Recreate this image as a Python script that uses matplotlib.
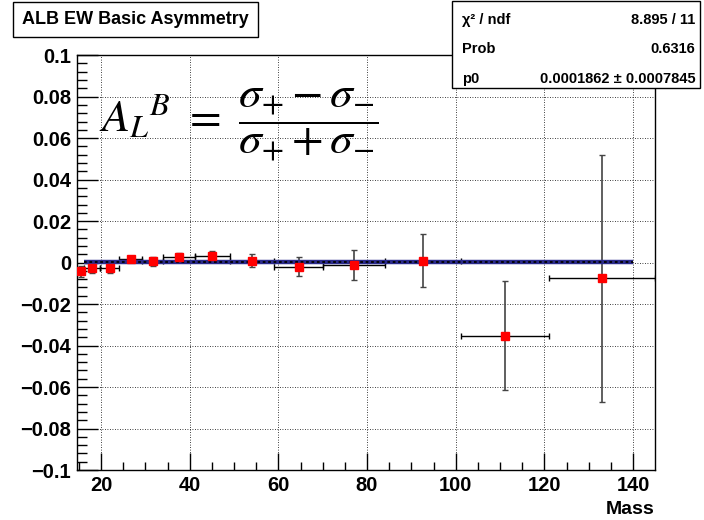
import numpy as np
import matplotlib
matplotlib.use("Agg")
import matplotlib.pyplot as plt
from matplotlib.ticker import MultipleLocator

# ------------------ DATA ------------------ #
bin_edges = [14.5, 16.2, 19.8, 24.1, 29.2, 34.0, 41.1, 49.0, 59.0, 70.1, 84.0, 101.1, 121.0, 144.9]
asym = [-0.0041, -0.0028, -0.0028, 0.0017, 0.0007, 0.0028, 0.0031, 0.0009,
        -0.0020, -0.0012, 0.0009, -0.0353, -0.0076]
asym_err = [0.0026, 0.0020, 0.0020, 0.0015, 0.0022, 0.0016, 0.0024, 0.0032,
            0.0046, 0.0071, 0.0127, 0.0262, 0.0597]
fit_p0 = 0.0001862
fit_range = [16.2, 140.0]

title = "ALB EW Basic Asymmetry"
stat_names = ["\u03c7\u00b2 / ndf", "Prob", "p0"]
stat_values = ["8.895 / 11", "0.6316", "0.0001862 \u00b1 0.0007845"]

edges = np.array(bin_edges)
centers = 0.5 * (edges[1:] + edges[:-1])
half_w = 0.5 * (edges[1:] - edges[:-1])

plt.rcParams['font.family'] = ['Liberation Sans', 'DejaVu Sans']
plt.rcParams['mathtext.fontset'] = 'stix'

fig = plt.figure(figsize=(7.04, 5.20), dpi=100)
ax = fig.add_axes([0.109, 0.096, 0.821, 0.798])

# ------------------ POINTS ------------------ #
ax.errorbar(centers, asym, xerr=half_w, fmt='none', ecolor='black',
            elinewidth=1.0, capsize=2.5, capthick=1.0, zorder=3)
ax.errorbar(centers, asym, yerr=asym_err, fmt='none', ecolor='#444444',
            elinewidth=1.2, capsize=2.5, capthick=1.0, zorder=3)

# fit line
ax.plot(fit_range, [fit_p0, fit_p0], color='#2b2b8c', lw=3.2, zorder=4,
        solid_capstyle='butt')
ax.plot(fit_range, [fit_p0, fit_p0], color='black', lw=1.3, ls=(0, (1.5, 1.5)), zorder=5)

ax.plot(centers, asym, 's', color='red', markersize=6, zorder=6)

# ------------------ AXES ------------------ #
ax.set_xlim(edges[0], edges[-1])
ax.set_ylim(-0.1, 0.1)
ax.xaxis.set_major_locator(MultipleLocator(20))
ax.xaxis.set_minor_locator(MultipleLocator(5))
ax.yaxis.set_minor_locator(MultipleLocator(0.004))
ax.tick_params(which='both', direction='in', top=False, right=False)
ax.tick_params(which='major', length=12, width=1.0, labelsize=14.5, pad=4)
ax.tick_params(which='minor', length=6, width=1.0)
ax.tick_params(axis='y', which='major', length=15)
ax.tick_params(axis='y', which='minor', length=7)
ax.set_yticks(np.arange(-0.1, 0.1001, 0.02))
ax.set_yticklabels(['\u22120.1', '\u22120.08', '\u22120.06', '\u22120.04', '\u22120.02',
                    '0', '0.02', '0.04', '0.06', '0.08', '0.1'])
for lab in ax.get_xticklabels() + ax.get_yticklabels():
    lab.set_fontweight('bold')
ax.grid(True, which='major', color='black', ls=(0, (1, 2)), lw=0.6)
for sp in ax.spines.values():
    sp.set_linewidth(1.0)

fig.text(0.930, 0.012, "Mass", ha='right', va='baseline', fontsize=14, fontweight='bold')

# ------------------ TEXT ------------------ #
fig.text(0.031, 0.962, title, ha='left', va='center', fontsize=13, fontweight='bold',
         bbox=dict(boxstyle='square,pad=0.5', fc='white', ec='black', lw=1.0))

fig.patches.append(plt.Rectangle((0.642, 0.830), 0.352, 0.168, transform=fig.transFigure,
                                 fc='white', ec='black', lw=1.0, zorder=10))
for i, (n, v) in enumerate(zip(stat_names, stat_values)):
    yy = 0.962 - i * 0.057
    fig.text(0.656, yy, n, ha='left', va='center', fontsize=10.5, fontweight='bold', zorder=11)
    fig.text(0.988, yy, v, ha='right', va='center', fontsize=10.5, fontweight='bold', zorder=11)

ax.text(0.038, 0.83, r'${A_L}^{B}\ =\ \dfrac{\sigma_{+} - \sigma_{-}}{\sigma_{+} + \sigma_{-}}$',
        transform=ax.transAxes, fontsize=33, ha='left', va='center')

fig.savefig("out.png", dpi=100)
